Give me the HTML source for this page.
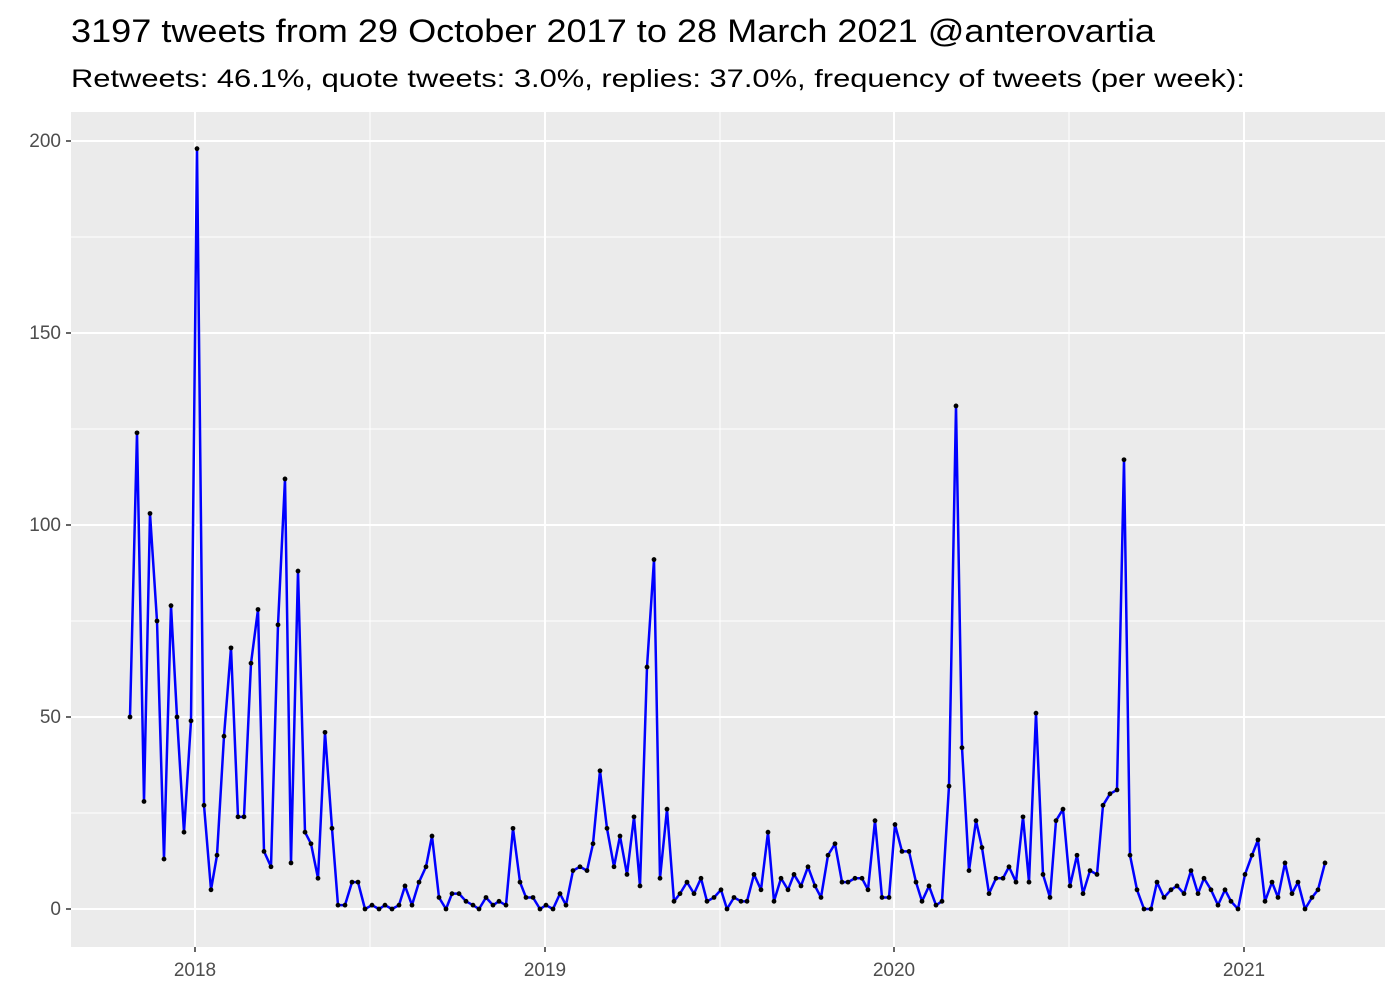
<!DOCTYPE html>
<html><head><meta charset="utf-8"><style>
body{margin:0;background:#fff;}
svg{display:block;font-family:"Liberation Sans",sans-serif;}
</style></head><body>
<svg width="1400" height="1000" xmlns="http://www.w3.org/2000/svg">
<text x="71" y="42" font-size="32" fill="#000" textLength="1084" lengthAdjust="spacingAndGlyphs">3197 tweets from 29 October 2017 to 28 March 2021 @anterovartia</text>
<text x="71" y="87" font-size="25" fill="#000" textLength="1174" lengthAdjust="spacingAndGlyphs">Retweets: 46.1%, quote tweets: 3.0%, replies: 37.0%, frequency of tweets (per week):</text>
<rect x="71" y="112" width="1314" height="835" fill="#ebebeb"/>
<g id="grid"></g>
<g id="ticks" font-size="19" fill="#4d4d4d"></g>
<polyline id="line" fill="none" stroke="#0000ff" stroke-width="2.5" stroke-linejoin="round"/>
<g id="pts" fill="#000"></g>
</svg>
<script>
const d=[[130,50],[137,124],[144,28],[150,103],[157,75],[164,13],[171,79],[177,50],[184,20],[191,49],[197,198],[204,27],[211,5],[217,14],[224,45],[231,68],[238,24],[244,24],[251,64],[258,78],[264,15],[271,11],[278,74],[285,112],[291,12],[298,88],[305,20],[311,17],[318,8],[325,46],[332,21],[338,1],[345,1],[352,7],[358,7],[365,0],[372,1],[379,0],[385,1],[392,0],[399,1],[405,6],[412,1],[419,7],[426,11],[432,19],[439,3],[446,0],[452,4],[459,4],[466,2],[473,1],[479,0],[486,3],[493,1],[499,2],[506,1],[513,21],[520,7],[526,3],[533,3],[540,0],[546,1],[553,0],[560,4],[566,1],[573,10],[580,11],[587,10],[593,17],[600,36],[607,21],[614,11],[620,19],[627,9],[634,24],[640,6],[647,63],[654,91],[660,8],[667,26],[674,2],[680,4],[687,7],[694,4],[701,8],[707,2],[714,3],[721,5],[727,0],[734,3],[741,2],[747,2],[754,9],[761,5],[768,20],[774,2],[781,8],[788,5],[794,9],[801,6],[808,11],[815,6],[821,3],[828,14],[835,17],[842,7],[848,7],[855,8],[862,8],[868,5],[875,23],[882,3],[889,3],[895,22],[902,15],[909,15],[916,7],[922,2],[929,6],[936,1],[942,2],[949,32],[956,131],[962,42],[969,10],[976,23],[982,16],[989,4],[996,8],[1003,8],[1009,11],[1016,7],[1023,24],[1029,7],[1036,51],[1043,9],[1050,3],[1056,23],[1063,26],[1070,6],[1077,14],[1083,4],[1090,10],[1097,9],[1103,27],[1110,30],[1117,31],[1124,117],[1130,14],[1137,5],[1144,0],[1151,0],[1157,7],[1164,3],[1171,5],[1177,6],[1184,4],[1191,10],[1198,4],[1204,8],[1211,5],[1218,1],[1225,5],[1231,2],[1238,0],[1245,9],[1252,14],[1258,18],[1265,2],[1272,7],[1278,3],[1285,12],[1292,4],[1298,7],[1305,0],[1312,3],[1318,5],[1325,12]];
const Y=v=>909-v*3.84;
const ns="http://www.w3.org/2000/svg";
function el(p,t,a,txt){const e=document.createElementNS(ns,t);for(const k in a)e.setAttribute(k,a[k]);if(txt!==undefined)e.textContent=txt;p.appendChild(e);return e;}
const g=document.getElementById('grid'),tk=document.getElementById('ticks');
for(let v=25;v<=200;v+=50)el(g,'line',{x1:71,x2:1385,y1:Y(v),y2:Y(v),stroke:'#fff','stroke-width':1});
[370,720,1069].forEach(x=>el(g,'line',{x1:x,x2:x,y1:112,y2:947,stroke:'#fff','stroke-width':1}));
for(let v=0;v<=200;v+=50){el(g,'line',{x1:71,x2:1385,y1:Y(v),y2:Y(v),stroke:'#fff','stroke-width':2});
el(tk,'line',{x1:66,x2:71,y1:Y(v),y2:Y(v),stroke:'#333','stroke-width':1.5});
el(tk,'text',{x:61,y:Y(v)+6,'text-anchor':'end'},String(v));}
[[195,'2018'],[545,'2019'],[894,'2020'],[1244,'2021']].forEach(([x,t])=>{el(g,'line',{x1:x,x2:x,y1:112,y2:947,stroke:'#fff','stroke-width':2});
el(tk,'line',{x1:x,x2:x,y1:947,y2:952,stroke:'#333','stroke-width':1.5});
el(tk,'text',{x:x,y:976,'text-anchor':'middle'},t);});
document.getElementById('line').setAttribute('points',d.map(p=>p[0]+','+Y(p[1])).join(' '));
const pts=document.getElementById('pts');
d.forEach(p=>el(pts,'circle',{cx:p[0],cy:Y(p[1]),r:2.4}));
</script>
</body></html>
